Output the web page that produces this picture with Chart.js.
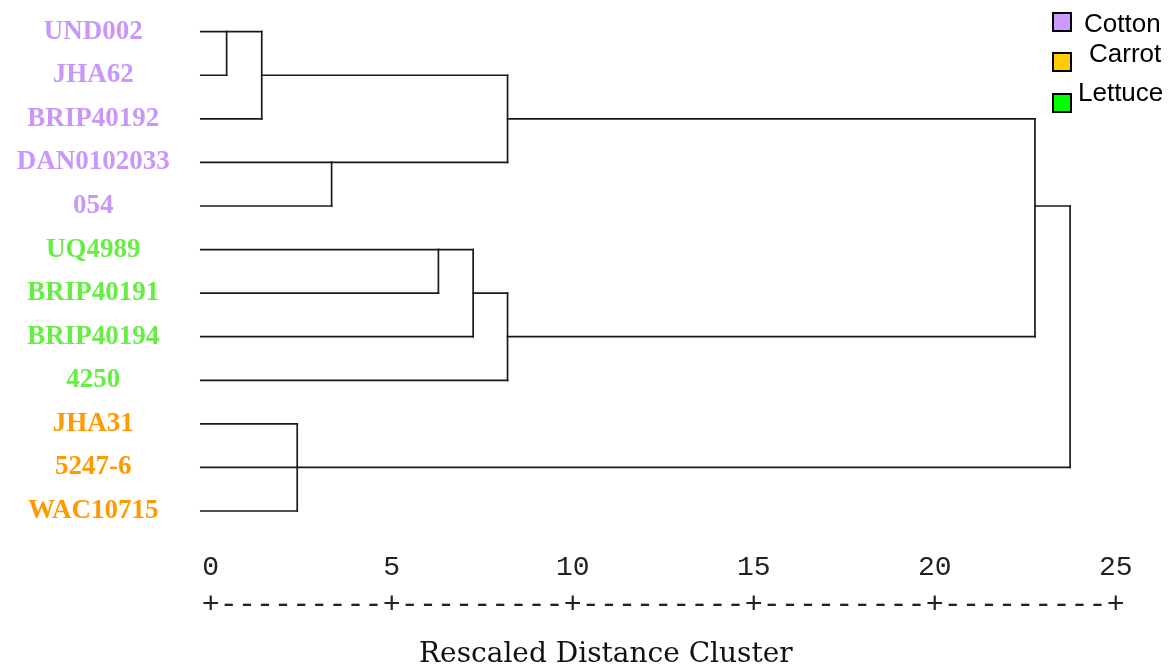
<!DOCTYPE html>
<html>
<head>
<meta charset="utf-8">
<script src="https://cdn.jsdelivr.net/npm/chart.js@4.4.0/dist/chart.umd.min.js"></script>
<style>
  body { margin: 0; background: #fff; }
  #wrap { position: relative; width: 1170px; height: 668px; }
  .key-box { position: absolute; width: 20px; height: 20px; box-sizing: border-box; border: 2px solid #000; }
  .key-text { position: absolute; font: 26px/26px 'Liberation Sans', Arial, sans-serif; color: #000; white-space: nowrap; }
  #xtitle { position: absolute; left: 419px; top: 639px; font: 28px/28px 'DejaVu Serif', serif; color: #111; white-space: nowrap; }
</style>
</head>
<body>
<div id="wrap">
  <canvas id="dendro"></canvas>
  <div id="xtitle">Rescaled Distance Cluster</div>
</div>
<script>
// leaves, top to bottom
const leafLabels = ['UND002', 'JHA62', 'BRIP40192', 'DAN0102033', '054', 'UQ4989',
                    'BRIP40191', 'BRIP40194', '4250', 'JHA31', '5247-6', 'WAC10715'];
const leafGroups = ['Cotton', 'Cotton', 'Cotton', 'Cotton', 'Cotton', 'Lettuce',
                    'Lettuce', 'Lettuce', 'Lettuce', 'Carrot', 'Carrot', 'Carrot'];

const groupNames = ['Cotton', 'Carrot', 'Lettuce'];
const labelColors = ['#c996fa', '#ff9900', '#66ee44'];
const keyColors = ['#cc99ff', '#ffcc00', '#00ff00'];

// joins: rescaled distance, members (L = leaf, N = earlier join), row the join continues on
const mergeHeights = [0.44, 1.41, 3.34, 8.20, 6.29, 7.25, 8.20, 2.39, 22.77, 23.74];
const mergeChildren = [
    ['L0', 'L1'], ['N0', 'L2'], ['L3', 'L4'], ['N1', 'N2'],
    ['L5', 'L6'], ['N4', 'L7'], ['N5', 'L8'], ['L9', 'L10', 'L11'],
    ['N3', 'N6'], ['N8', 'N7']
];
const mergeRows = [0, 1, 3, 2, 5, 6, 7, 10, 4, 7];

const leafStart = -0.28;   // SPSS starts leaf branches just left of 0
const distanceTicks = [0, 5, 10, 15, 20, 25];

function childPos(id) {
    const k = +id.slice(1);
    if (id[0] === 'L') return { x: leafStart, row: k };
    return { x: mergeHeights[k], row: mergeRows[k] };
}

const segments = [];
mergeHeights.forEach((h, i) => {
    const kids = mergeChildren[i].map(childPos);
    kids.forEach(c => segments.push([{ x: c.x, y: c.row }, { x: h, y: c.row }]));
    const rows = kids.map(c => c.row);
    segments.push([{ x: h, y: Math.min(...rows) }, { x: h, y: Math.max(...rows) }]);
});

const noGrid = { display: false, drawTicks: false };

new Chart(document.getElementById('dendro'), {
    type: 'scatter',
    data: {
        datasets: segments.map(s => ({
            data: s,
            showLine: true,
            borderColor: '#1a1a1a',
            borderWidth: 1.7,
            borderCapStyle: 'square',
            pointRadius: 0
        }))
    },
    options: {
        responsive: true,
        maintainAspectRatio: false,
        animation: false,
        events: [],
        layout: { padding: { left: 0, top: 0, right: 54.3, bottom: 42.8 } },
        plugins: { legend: { display: false }, tooltip: { enabled: false } },
        scales: {
            x: {
                type: 'linear', position: 'bottom', weight: 0,
                min: -0.3, max: 25,
                grid: noGrid, border: { display: false },
                afterBuildTicks: s => { s.ticks = distanceTicks.map(v => ({ value: v })); },
                ticks: {
                    padding: 0, autoSkip: false, maxRotation: 0, color: '#222',
                    font: { family: 'Liberation Mono', size: 28, lineHeight: 1.2 }
                }
            },
            ruler: {
                type: 'linear', axis: 'x', position: 'bottom', weight: 1,
                min: -0.3, max: 25,
                grid: noGrid, border: { display: false },
                afterBuildTicks: s => {
                    const t = [];
                    for (let v = 0; v <= 25; v += 0.5) t.push({ value: v });
                    s.ticks = t;
                },
                ticks: {
                    padding: 2.2, autoSkip: false, maxRotation: 0, color: '#222',
                    font: { family: 'Liberation Mono', size: 30, lineHeight: 1.2 },
                    callback: v => (v % 5 === 0 ? '+' : '-')
                }
            },
            y: {
                type: 'linear', reverse: true,
                min: -0.7275, max: 11.9226,
                grid: noGrid, border: { display: false },
                afterBuildTicks: s => { s.ticks = leafLabels.map((_, i) => ({ value: i })); },
                afterFit: s => {
                    s.width = 199.84;
                    s.paddingTop = 0;
                    s.paddingBottom = 0;
                },
                ticks: {
                    autoSkip: false, padding: 30, crossAlign: 'center',
                    font: { family: 'Liberation Serif', size: 27, weight: 'bold' },
                    color: ctx => labelColors[groupNames.indexOf(leafGroups[ctx.tick.value])],
                    callback: v => leafLabels[v]
                }
            }
        }
    }
});

// legend, top right
const keyPos = [
    { box: [1052, 12], text: [1084, 10] },
    { box: [1052, 52], text: [1089, 40] },
    { box: [1052, 93], text: [1078, 79] }
];
const wrap = document.getElementById('wrap');
groupNames.forEach((name, i) => {
    const b = document.createElement('div');
    b.className = 'key-box';
    b.style.left = keyPos[i].box[0] + 'px';
    b.style.top = keyPos[i].box[1] + 'px';
    b.style.background = keyColors[i];
    wrap.appendChild(b);
    const t = document.createElement('div');
    t.className = 'key-text';
    t.style.left = keyPos[i].text[0] + 'px';
    t.style.top = keyPos[i].text[1] + 'px';
    t.textContent = name;
    wrap.appendChild(t);
});
</script>
</body>
</html>
